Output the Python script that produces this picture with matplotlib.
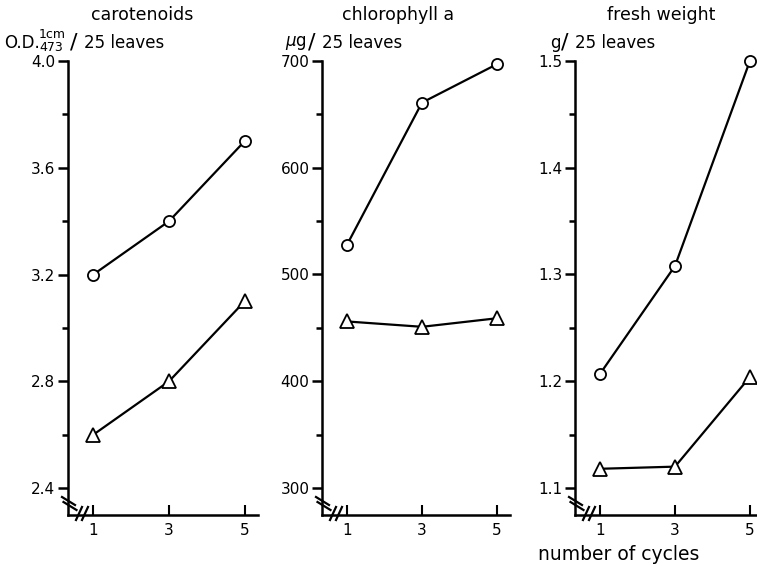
import matplotlib.pyplot as plt
from matplotlib.lines import Line2D

cycles = [1, 3, 5]

carot_circle = [3.20, 3.40, 3.70]
carot_tri = [2.60, 2.80, 3.10]

chl_circle = [528, 661, 697]
chl_tri = [456, 451, 459]

fw_circle = [1.207, 1.308, 1.500]
fw_tri = [1.118, 1.120, 1.204]

titles = ['carotenoids', 'chlorophyll a', 'fresh weight']

W, H = 757, 566
plt.rcParams['font.family'] = 'DejaVu Sans'
fig = plt.figure(figsize=(W / 100, H / 100), dpi=100)


def px_axes(left, right, top, bottom):
    return fig.add_axes([left / W, 1 - bottom / H, (right - left) / W, (bottom - top) / H])


def ftext(x, y, s, **kw):
    kw.setdefault('fontsize', 12)
    kw.setdefault('va', 'center')
    return fig.text(x / W, 1 - y / H, s, **kw)


def break_marks(x0, y0):
    # little // marks at the origin corner, pixel coordinates
    tr = fig.transFigure
    for d in (0, 5):
        fig.add_artist(Line2D([(x0 - 6 + d * 0.3) / W, (x0 + 7 + d * 0.3) / W],
                              [1 - (y0 - 18 + d) / H, 1 - (y0 - 10 + d) / H],
                              color='black', lw=1.6, transform=tr))
    for d in (0, 6):
        fig.add_artist(Line2D([(x0 + 8 + d) / W, (x0 + 14 + d) / W],
                              [1 - (y0 + 5) / H, 1 - (y0 - 8) / H],
                              color='black', lw=1.6, transform=tr))


def style(ax, ymin, ymax, yticks, minor, labels, xright=5.35):
    ax.set_xlim(0.33, xright)
    ax.set_ylim(ymin, ymax)
    for s in ['top', 'right']:
        ax.spines[s].set_visible(False)
    ax.spines['left'].set_bounds(ymin, yticks[-1])
    for s in ['left', 'bottom']:
        ax.spines[s].set_linewidth(1.8)
    ax.set_yticks(yticks)
    ax.set_yticklabels(labels)
    ax.set_yticks(minor, minor=True)
    ax.set_xticks(cycles)
    ax.tick_params(axis='y', which='major', direction='out', length=7, width=1.8, labelsize=11, pad=2)
    ax.tick_params(axis='y', which='minor', direction='out', length=4, width=1.8)
    ax.tick_params(axis='x', which='major', direction='in', length=7, width=1.5, labelsize=11, pad=6)
    ax.patch.set_alpha(0)


def series(ax, c, t):
    ax.plot(cycles, c, color='black', lw=1.6, marker='o', ms=8, mfc='white', mec='black', mew=1.3, clip_on=False)
    ax.plot(cycles, t, color='black', lw=1.6, marker='^', ms=10, mfc='white', mec='black', mew=1.3, clip_on=False)


ax1 = px_axes(68, 258, 61, 515)
series(ax1, carot_circle, carot_tri)
style(ax1, 2.299, 4.0, [2.4, 2.8, 3.2, 3.6, 4.0], [2.6, 3.0, 3.4, 3.8],
      ['2.4', '2.8', '3.2', '3.6', '4.0'])

ax2 = px_axes(322, 510, 61, 515)
series(ax2, chl_circle, chl_tri)
style(ax2, 274.7, 700, [300, 400, 500, 600, 700], [350, 450, 550, 650],
      ['300', '400', '500', '600', '700'])

ax3 = px_axes(575, 757, 61, 515)
series(ax3, fw_circle, fw_tri)
style(ax3, 1.0747, 1.5, [1.1, 1.2, 1.3, 1.4, 1.5], [1.15, 1.25, 1.35, 1.45],
      ['1.1', '1.2', '1.3', '1.4', '1.5'], xright=5.19)

for x0 in (68, 322, 575):
    break_marks(x0, 515)

ftext(142, 15, titles[0], ha='center', fontsize=12.5)
ftext(398, 15, titles[1], ha='center', fontsize=12.5)
ftext(661, 15, titles[2], ha='center', fontsize=12.5)

# unit labels: O.D. with stacked 1cm / 473, then a tall slash
ftext(4, 43, 'O.D.', ha='left')
ftext(39, 35, '1cm', ha='left', fontsize=9)
ftext(39, 47.5, '473', ha='left', fontsize=9)
ftext(70, 43, '/', ha='left', fontsize=16)
ftext(84, 43, '25 leaves', ha='left')

ftext(285, 43, r'$\mu$g', ha='left')
ftext(308, 43, '/', ha='left', fontsize=16)
ftext(322, 43, '25 leaves', ha='left')

ftext(550, 43, 'g', ha='left')
ftext(561, 43, '/', ha='left', fontsize=16)
ftext(575, 43, '25 leaves', ha='left')

ftext(619, 555, 'number of cycles', ha='center', fontsize=13.5)

fig.savefig('out.png', dpi=100)
